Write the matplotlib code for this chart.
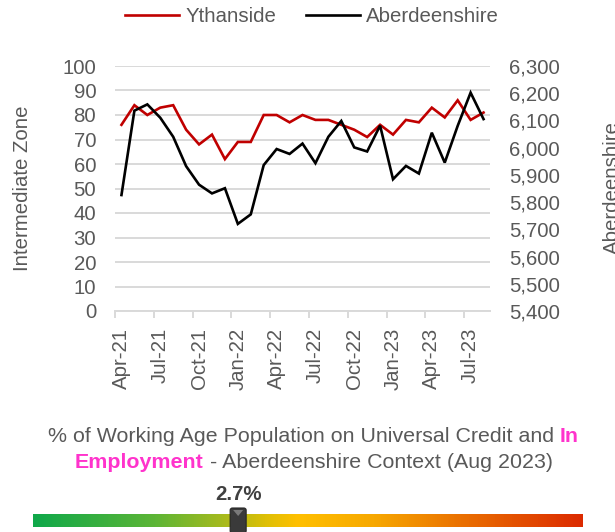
import matplotlib
matplotlib.use('Agg')
import matplotlib.pyplot as plt
import numpy as np
from matplotlib.colors import LinearSegmentedColormap
from matplotlib.patches import FancyBboxPatch, Polygon
from matplotlib.lines import Line2D

# ---------------- data ----------------
months = ['Apr-21', 'May-21', 'Jun-21', 'Jul-21', 'Aug-21', 'Sep-21', 'Oct-21', 'Nov-21', 'Dec-21',
          'Jan-22', 'Feb-22', 'Mar-22', 'Apr-22', 'May-22', 'Jun-22', 'Jul-22', 'Aug-22', 'Sep-22',
          'Oct-22', 'Nov-22', 'Dec-22', 'Jan-23', 'Feb-23', 'Mar-23', 'Apr-23', 'May-23', 'Jun-23',
          'Jul-23', 'Aug-23']
ythanside = [76, 84, 80, 83, 84, 74, 68, 72, 62, 69, 69, 80, 80, 77, 80, 78, 78, 76, 74, 71, 76,
             72, 78, 77, 83, 79, 86, 78, 81]
aberdeenshire = [5826, 6136, 6159, 6110, 6040, 5932, 5864, 5832, 5851, 5720, 5755, 5936, 5995,
                 5977, 6015, 5943, 6040, 6098, 6001, 5986, 6081, 5884, 5933, 5905, 6055, 5945,
                 6080, 6202, 6105]
left_ticks = [0, 10, 20, 30, 40, 50, 60, 70, 80, 90, 100]
right_ticks = [5400, 5500, 5600, 5700, 5800, 5900, 6000, 6100, 6200, 6300]
series_names = ['Ythanside', 'Aberdeenshire']
gauge_label = '2.7%'
gauge_position = 0.373   # marker position along the context bar (0..1)

# ---------------- style ----------------
plt.rcParams['font.family'] = ['Liberation Sans', 'DejaVu Sans']
W, H = 615, 532
GREY = '#595959'
GRID = '#d9d9d9'
PINK = '#ff33cc'
RED = '#c00000'
FS = 14.7

fig = plt.figure(figsize=(W / 100, H / 100), dpi=100)


def fx(px):
    return px / W


def fy(py):
    return 1 - py / H


ax = fig.add_axes([fx(115), fy(311), fx(490) - fx(115), fy(66) - fy(311)])
ax2 = ax.twinx()

x = np.arange(len(months))
l1, = ax.plot(x, ythanside, color=RED, lw=1.9, solid_joinstyle='miter')
l2, = ax2.plot(x, aberdeenshire, color='black', lw=1.9, solid_joinstyle='miter')

ax.set_xlim(-0.5, len(months) - 0.5)
ax.set_ylim(left_ticks[0], left_ticks[-1])
ax2.set_ylim(right_ticks[0], right_ticks[-1])

ax.set_yticks(left_ticks)
ax.yaxis.grid(True, color=GRID, lw=1.4)
ax.set_axisbelow(True)
for s in ['top', 'left', 'right']:
    ax.spines[s].set_visible(False)
for s in ax2.spines.values():
    s.set_visible(False)
ax.spines['bottom'].set_color(GRID)
ax.spines['bottom'].set_linewidth(1.4)
ax.spines['bottom'].set_zorder(0.5)

ax.tick_params(axis='y', length=0, pad=13.5, labelsize=FS, labelcolor=GREY)
ax2.set_yticks(right_ticks)
ax2.set_yticklabels([f'{v:,}' for v in right_ticks])
ax2.tick_params(axis='y', length=0, pad=14, labelsize=FS, labelcolor=GREY)

ax.set_xticks(np.arange(-0.5, len(months) - 1, 3))
ax.set_xticklabels([])
ax.tick_params(axis='x', which='major', length=5, width=1.4, color=GRID)
ax.set_xticks(x[::3], minor=True)
ax.set_xticklabels(months[::3], minor=True, rotation=90)
ax.tick_params(axis='x', which='minor', length=0, pad=12, labelsize=FS, labelcolor=GREY)

# axis titles
fig.text(fx(13), fy(188), 'Intermediate Zone', rotation=90, ha='left', va='center',
         fontsize=FS, color=GREY)
fig.text(fx(603), fy(188), 'Aberdeenshire', rotation=90, ha='left', va='center',
         fontsize=FS, color=GREY)

# legend
fig.legend([l1, l2], series_names, loc='center', bbox_to_anchor=(fx(312), fy(17)), ncol=2,
           frameon=False, handlelength=2.65, handletextpad=0.3, columnspacing=1.45,
           fontsize=FS, labelcolor=GREY, borderpad=0)

# ---------------- context title with coloured words ----------------
TFS = 15.4
renderer = fig.canvas.get_renderer()


def text_width(s, weight):
    t = fig.text(0, 0, s, fontsize=TFS, fontweight=weight)
    w = t.get_window_extent(renderer).width
    t.remove()
    return w


space_w = text_width('a a', 'normal') - text_width('aa', 'normal')


def draw_line(pieces, cx, cy):
    widths = []
    for s, c, wgt in pieces:
        stripped = s.strip(' ')
        w = text_width(stripped, wgt)
        lead = (len(s) - len(s.lstrip(' '))) * space_w
        trail = (len(s) - len(s.rstrip(' '))) * space_w
        widths.append((lead, w, trail))
    total = sum(a + b + c for a, b, c in widths)
    xpos = cx - total / 2
    for (s, c, wgt), (lead, w, trail) in zip(pieces, widths):
        xpos += lead
        fig.text(xpos / W, fy(cy), s.strip(' '), fontsize=TFS, fontweight=wgt, color=c,
                 ha='left', va='center')
        xpos += w + trail


draw_line([('% of Working Age Population on Universal Credit and ', GREY, 'normal'),
           ('In', PINK, 'bold')], 313.5, 436)
draw_line([('Employment', PINK, 'bold'),
           (' - Aberdeenshire Context (Aug 2023)', GREY, 'normal')], 314, 462)

# ---------------- gauge bar ----------------
gx0, gx1, gy0, gy1 = 33, 583, 514, 527
gax = fig.add_axes([fx(gx0), fy(gy1), fx(gx1) - fx(gx0), fy(gy0) - fy(gy1)])
cmap = LinearSegmentedColormap.from_list('ctx', [
    (0.0, '#0fa84a'), (0.22, '#5cb536'), (0.34, '#a3ba1e'), (0.42, '#dcbf06'),
    (0.48, '#ffc000'), (0.62, '#f7a800'), (0.78, '#ea7000'), (1.0, '#dc2a00')])
gax.imshow(np.linspace(0, 1, 512)[None, :], aspect='auto', cmap=cmap, extent=(0, 1, 0, 1))
gax.set_axis_off()

mx = gx0 + gauge_position * (gx1 - gx0)
mw, mtop, mbot = 16, 508, 533
marker = FancyBboxPatch((fx(mx - mw / 2), fy(mbot)), fx(mw), fy(mtop) - fy(mbot),
                        boxstyle='round,pad=0,rounding_size=0.004',
                        transform=fig.transFigure, facecolor='#3a3a3a', edgecolor='#262626',
                        lw=0.8, zorder=10)
fig.patches.append(marker)
tri = Polygon([(fx(mx - 5), fy(mtop + 2)), (fx(mx + 5), fy(mtop + 2)), (fx(mx), fy(mtop + 8))],
              closed=True, transform=fig.transFigure, facecolor='#7a7a7a', edgecolor='none',
              zorder=11)
fig.patches.append(tri)
fig.text(fx(mx), fy(494), gauge_label, ha='center', va='center', fontsize=FS,
         fontweight='bold', color='#404040')

fig.savefig('out.png', dpi=100)
